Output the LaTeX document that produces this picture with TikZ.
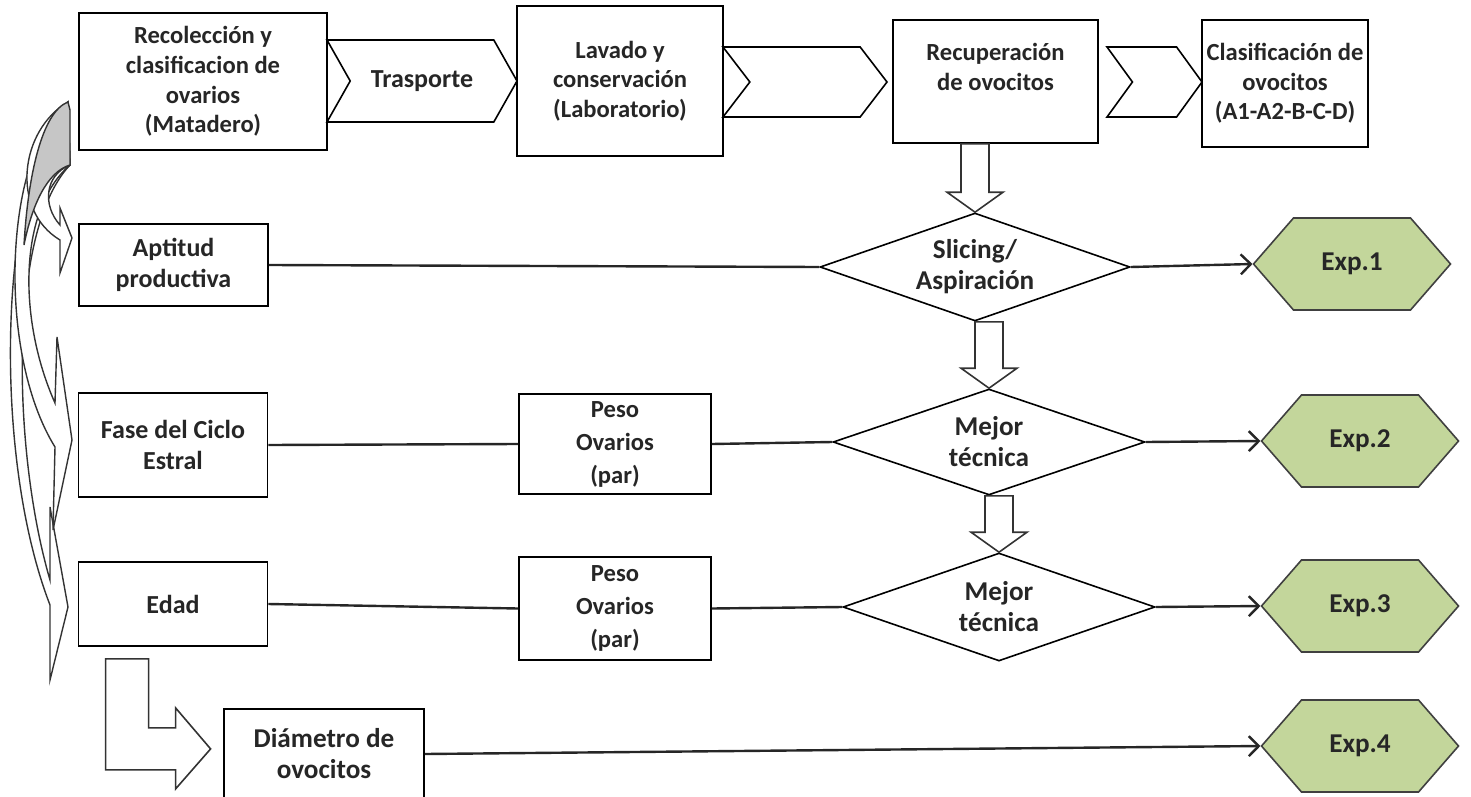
\documentclass[tikz,border=0pt]{standalone}
\usepackage{fontspec}
\setmainfont{Carlito}
\usetikzlibrary{positioning}
\usetikzlibrary{shapes}
\usetikzlibrary{calc}
\usetikzlibrary{arrows.meta}

\definecolor{expgreen}{RGB}{195,214,155}
\newcommand{\diagfont}{\fontsize{12.3}{14.8}\selectfont\bfseries}
\newcommand{\rowfont}{\fontsize{13}{15.5}\selectfont\bfseries}
\newcommand{\pesofont}{\fontsize{12.3}{16.5}\selectfont\bfseries}
\newcommand{\bigfont}{\fontsize{13.6}{15.5}\selectfont\bfseries}
% block arrow going down from #1 to the tip #2
\newcommand{\blockdown}[2]{%
  \draw[blockarrow] ($(#2 |- #1)+(-14,0)$) -- ($(#2 |- #1)+(14,0)$) -- ($(#2)+(14,-20)$)
    -- ($(#2)+(28,-20)$) -- (#2) -- ($(#2)+(-28,-20)$) -- ($(#2)+(-14,-20)$) -- cycle;}

\begin{document}
\begin{tikzpicture}[x=0.5pt,y=-0.5pt,
    box/.style={rectangle, draw=black, line width=0.9pt, fill=white, align=center, font=\diagfont, text=black!85, inner sep=2pt},
    chev/.style={signal, signal from=west, signal to=east, draw=black, line width=0.8pt, fill=white, font=\rowfont, text=black!85, inner sep=0pt},
    decision/.style={diamond, draw=black, line width=0.8pt, fill=white, align=center, font=\bigfont, text=black!85, aspect=2.9, inner sep=0pt},
    expnode/.style={signal, signal to=west and east, signal pointer angle=98, draw=black!75, line width=0.8pt, fill=expgreen, font=\bigfont, text=black!85, minimum width=98.5pt, minimum height=46pt, inner sep=0pt},
    link/.style={line width=1.2pt, draw=black!85},
    blockarrow/.style={draw=black!80, line width=0.8pt},
    curvearrow/.style={draw=black!80, line width=0.7pt, fill=white}]
\useasboundingbox (0,0) rectangle (1471,797);

% top row
\node[box, minimum width=124pt, minimum height=68.5pt] (rec) at (203,81.5) {Recolección y\\clasificacion de\\ovarios\\(Matadero)};
\node[chev, minimum width=95pt, minimum height=41pt, signal pointer angle=121] (tras) at (422,81) {Trasporte};
\node[box, minimum width=103pt, minimum height=75pt] (lav) at (620,81) {Lavado y\\conservación\\(Laboratorio)};
\node[chev, minimum width=82pt, minimum height=35pt, signal pointer angle=105] (chevb) at (805,82) {};
\node[box, minimum width=102.5pt, minimum height=61.5pt] (recup) at (995.5,81.5) {Recuperación\\de ovocitos\\ \mbox{}};
\node[chev, minimum width=47.5pt, minimum height=35pt, signal pointer angle=108] (chevc) at (1154.5,82) {};
\node[box, minimum width=83pt, minimum height=63.5pt] (clas) at (1285,83.5) {Clasificación de\\ovocitos\\(A1-A2-B-C-D)};

% left column
\node[box, font=\rowfont, minimum width=94.5pt, minimum height=41pt] (apt) at (173.5,265) {Aptitud\\productiva};
\node[box, font=\rowfont, minimum width=94.5pt, minimum height=52pt] (fase) at (173,445) {Fase del Ciclo\\Estral};
\node[box, font=\rowfont, minimum width=94.5pt, minimum height=42pt] (edad) at (173,604) {Edad};
\node[box, font=\pesofont, minimum width=96pt, minimum height=50pt] (pesob) at (615,444) {Peso\\Ovarios\\(par)};
\node[box, font=\pesofont, minimum width=96pt, minimum height=51.5pt] (pesoc) at (615,608.5) {Peso\\Ovarios\\(par)};
\node[box, font=\bigfont, minimum width=100pt, minimum height=45pt] (diam) at (324,754) {Diámetro de\\ovocitos};

% decisions
\node[decision, minimum width=155pt, minimum height=54pt] (slic) at (975,267) {Slicing/\\Aspiración};
\node[decision, minimum width=156pt, minimum height=53pt] (mejb) at (989,442) {Mejor\\técnica};
\node[decision, minimum width=156pt, minimum height=54pt] (mejc) at (999,607) {Mejor\\técnica};

% experiments
\node[expnode] (exp1) at (1352,264) {Exp.1};
\node[expnode] (exp2) at (1360,441) {Exp.2};
\node[expnode] (exp3) at (1360,606) {Exp.3};
\node[expnode] (exp4) at (1360,746) {Exp.4};

\draw[link] (apt.east) -- (slic.west);
\draw[link, -{Straight Barb[length=5pt,width=10pt]}] (slic.east) -- (exp1.west);
\draw[link] (fase.east) -- (pesob.west);
\draw[link] (pesob.east) -- (mejb.west);
\draw[link, -{Straight Barb[length=5pt,width=10pt]}] (mejb.east) -- (exp2.west);
\draw[link] (edad.east) -- (pesoc.west);
\draw[link] (pesoc.east) -- (mejc.west);
\draw[link, -{Straight Barb[length=5pt,width=10pt]}] (mejc.east) -- (exp3.west);
\draw[link, -{Straight Barb[length=5pt,width=10pt]}] (diam.east) -- (exp4.west);

\blockdown{recup.south}{slic.north}
\blockdown{slic.south}{mejb.north}
\blockdown{mejb.south}{mejc.north}

% bent arrow to the diameter box
\coordinate (lb) at ($(edad.south west)+(28,12)$);
\draw[blockarrow] (lb) -- ++(43,0) -- ++(0,69) -- ++(27,0) -- ++(0,-20) -- ++(35,41)
  -- ++(-35,40) -- ++(0,-19) -- ++(-70,0) -- cycle;

% curved arrows on the left
\draw[curvearrow] (68,102) .. controls (0,170) and (-10,450) .. (50,605) -- (50,680) -- (68,607) -- (50,507)
  -- (50,580) .. controls (12,450) and (8,230) .. (70,165) -- cycle;
\draw[curvearrow] (68,102) .. controls (5,150) and (-5,350) .. (55,447) -- (53,530) -- (72,440) -- (57,337)
  -- (55,403) .. controls (18,320) and (18,210) .. (70,165) -- cycle;
\draw[curvearrow] (68,102) .. controls (20,130) and (10,210) .. (60,240) -- (60,273) -- (72,238) -- (60,208)
  -- (60,225) .. controls (42,205) and (45,175) .. (70,165) -- cycle;
\draw[curvearrow, fill=gray!45] (68,102) .. controls (42,112) and (28,175) .. (24,245)
  .. controls (32,205) and (47,172) .. (70,165) -- (70,110) -- cycle;
\end{tikzpicture}
\end{document}
